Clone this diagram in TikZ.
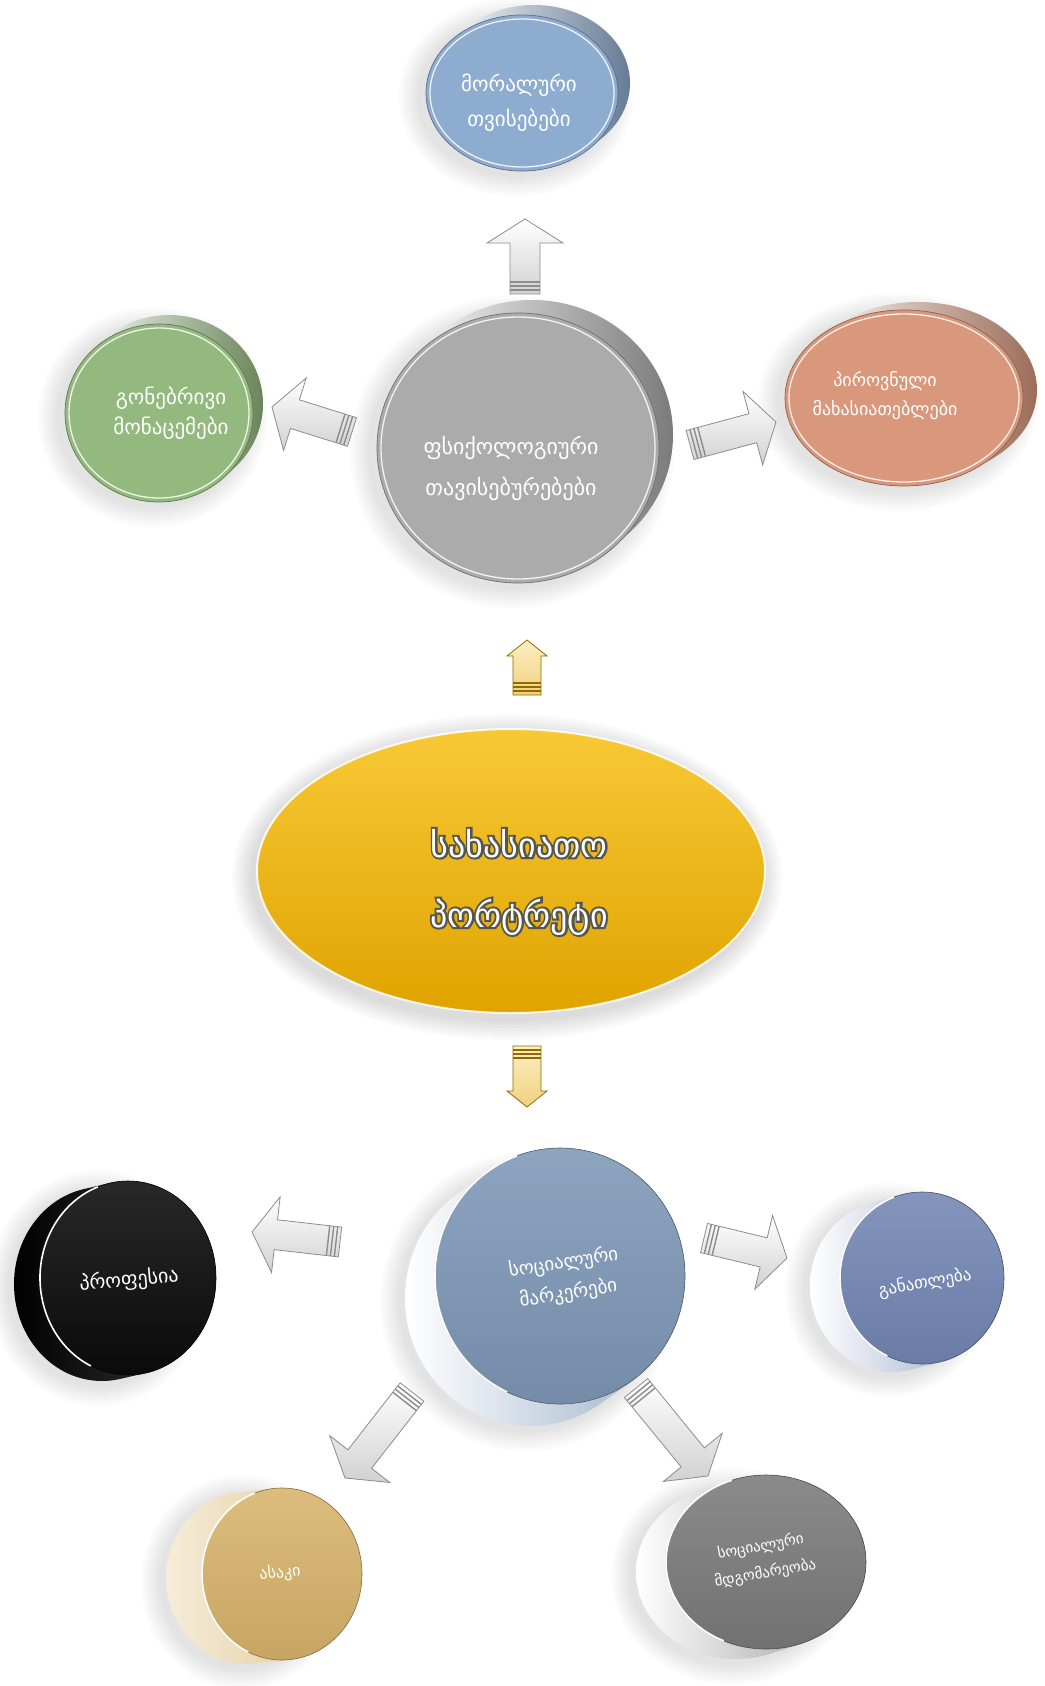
\documentclass[tikz,border=0pt]{standalone}
\usepackage{fontspec}
\newfontfamily\geo{DejaVu Sans}
\newfontfamily\geohalo[FakeBold=12]{DejaVu Sans}
\usetikzlibrary{calc}

\definecolor{moralc}{HTML}{8EABD0}
\definecolor{mindc}{HTML}{94B97E}
\definecolor{psyc}{HTML}{ABABAB}
\definecolor{persc}{HTML}{D9977B}
\definecolor{coreA}{HTML}{F7C936}
\definecolor{coreB}{HTML}{E0A300}
\definecolor{socc}{HTML}{7E98B7}
\definecolor{profc}{HTML}{0B0B0B}
\definecolor{educ}{HTML}{7386B4}
\definecolor{agec}{HTML}{D8B46B}
\definecolor{statc}{HTML}{7B7B7B}
\definecolor{haloc}{HTML}{55554A}

% flat disc: centre x, centre y, x radius, y radius, colour, rim shift x, rim shift y
\newcommand\flatdisc[7]{%
  \foreach \k in {1,...,7}
    \fill[black, opacity=0.016] ({#1-6},{#2+4}) ellipse [x radius={#3+3*\k}, y radius={#4+3*\k}];
  \shade[left color=white, right color=#5!72!black] ({#1+#6},{#2+#7}) ellipse [x radius=#3, y radius=#4];
  \fill[#5] (#1,#2) ellipse [x radius=#3, y radius=#4];
  \draw[#5!65!black, line width=.7pt] (#1,#2) ellipse [x radius=#3, y radius=#4];
  \draw[white, line width=1.3pt, opacity=.85] (#1,#2) ellipse [x radius={#3-4}, y radius={#4-4}];
}

% disc seen at an angle: centre x, centre y, x radius, y radius, tilt, depth x, depth y, face colour, side colour
\newcommand\cylinder[9]{%
  \begin{scope}[rotate around={#5:(#1,#2)}]
    \foreach \k in {1,...,7}
      \fill[black, opacity=0.016] ({#1+#6-4},{#2+#7+4}) ellipse [x radius={#3+3*\k}, y radius={#4+3*\k}];
    \shade[left color=#9, right color=#8!80!white]
      foreach \t in {0,0.1,...,1.01} { ({#1+\t*#6},{#2+\t*#7}) ellipse [x radius=#3, y radius=#4] };
    \shade[top color=#8!88!white, bottom color=#8!92!black] (#1,#2) ellipse [x radius=#3, y radius=#4];
    \draw[#8!60!black, line width=.6pt] (#1,#2) ellipse [x radius=#3, y radius=#4];
    \draw[white, line width=1.6pt]
      ({#1+#3*cos(115)},{#2+#4*sin(115)}) arc [start angle=115, end angle=250, x radius=#3, y radius=#4];
  \end{scope}
}

% block arrow from a tail coordinate to a tip coordinate
\def\ahw{38}\def\ahl{24}\def\asw{15}
\newcommand\blockarrow[3]{%
  \path let \p1=(#2), \p2=(#3),
      \n1={atan2(\y2-\y1,\x2-\x1)}, \n2={veclen(\x2-\x1,\y2-\y1)} in
      \pgfextra{\xdef\arrang{\n1}\xdef\arrlen{\n2}};
  \begin{scope}[shift={(#2)}, rotate=\arrang]
    \shadedraw[#1] (0,-\asw) -- ({\arrlen-\ahl},-\asw) -- ({\arrlen-\ahl},-\ahw) -- (\arrlen,0)
      -- ({\arrlen-\ahl},\ahw) -- ({\arrlen-\ahl},\asw) -- (0,\asw) -- cycle;
    \foreach \s in {4,8,12}
      \draw[#1, line width=1.4pt] (\s,-\asw) -- (\s,\asw);
  \end{scope}
}

\tikzset{
  whitearrow/.style={top color=white, bottom color=black!18, draw=black!45, line width=.8pt},
  goldarrow/.style={top color=coreA!30!white, bottom color=coreB!50!white, draw=coreB!65!black, line width=.8pt},
  lbl/.style={text=white, align=center, inner sep=0pt},
}

\begin{document}
\begin{tikzpicture}[x=1pt,y=-1pt]
\useasboundingbox (0,0) rectangle (1044,1686);
\fill[white] (0,0) rectangle (1044,1686);

% upper group
\flatdisc{522}{93}{96}{78}{moralc}{12}{-10}
\flatdisc{159}{413}{94}{89}{mindc}{10}{-9}
\flatdisc{518}{448}{141}{135}{psyc}{14}{-13}
\flatdisc{904}{398}{119}{88}{persc}{14}{-8}

\node[lbl, font=\geo\fontsize{21}{35}\selectfont] (moral) at (519,103) {მორალური\\თვისებები};
\node[lbl, font=\geo\fontsize{21}{30}\selectfont] (mind) at (171,413) {გონებრივი\\მონაცემები};
\node[lbl, font=\geo\fontsize{22}{41}\selectfont] (psy) at (511,468) {ფსიქოლოგიური\\თავისებურებები};
\node[lbl, font=\geo\fontsize{18}{29}\selectfont] (pers) at (885,396) {პიროვნული\\მახასიათებლები};

% central ellipse
\foreach \k in {1,...,7}
  \fill[black, opacity=0.018] (507,877) ellipse [x radius={254+3*\k}, y radius={142+3*\k}];
\shade[top color=coreA, bottom color=coreB] (511,871) ellipse [x radius=254, y radius=142];
\draw[white, line width=2pt, opacity=.85] (511,871) ellipse [x radius=254, y radius=142];
\node[lbl, text=haloc, font=\geohalo\fontsize{34}{70}\selectfont] (core-halo) at (519,882) {სახასიათო\\პორტრეტი};
\node[lbl, font=\geo\fontsize{34}{70}\selectfont] (core) at (519,882) {სახასიათო\\პორტრეტი};

% lower group
\cylinder{560}{1276}{125}{128}{0}{-30}{22}{socc}{white}
\cylinder{128}{1278}{88}{97}{0}{-26}{6}{profc}{black}
\cylinder{922}{1278}{82}{86}{0}{-30}{8}{educ}{white}
\cylinder{282}{1574}{80}{86}{0}{-36}{4}{agec}{agec!25!white}
\cylinder{766}{1562}{100}{87}{0}{-30}{10}{statc}{white}

\node[lbl, rotate=9, font=\geo\fontsize{19}{31}\selectfont] (soc) at (566,1278) {სოციალური\\მარკერები};
\node[lbl, rotate=5, font=\geo\fontsize{20}{24}\selectfont] (prof) at (129,1280) {პროფესია};
\node[lbl, rotate=10, font=\geo\fontsize{17}{24}\selectfont] (edu) at (925,1283) {განათლება};
\node[lbl, rotate=5, font=\geo\fontsize{16}{24}\selectfont] (age) at (280,1573) {ასაკი};
\node[lbl, rotate=10, font=\geo\fontsize{15}{27}\selectfont] (stat) at (763,1560) {სოციალური\\მდგომარეობა};

% arrow ends
\coordinate (a1s) at (525,294); \coordinate (a1e) at (525,219);
\coordinate (a2s) at (352,432); \coordinate (a2e) at (272,407);
\coordinate (a3s) at (690,445); \coordinate (a3e) at (776,422);
\coordinate (a4s) at (527,695); \coordinate (a4e) at (527,640);
\coordinate (a5s) at (527,1046); \coordinate (a5e) at (527,1107);
\coordinate (a6s) at (340,1242); \coordinate (a6e) at (252,1232);
\coordinate (a7s) at (704,1238); \coordinate (a7e) at (787,1258);
\coordinate (a8s) at (412,1392); \coordinate (a8e) at (345,1478);
\coordinate (a9s) at (636,1388); \coordinate (a9e) at (708,1476);

\blockarrow{whitearrow}{a1s}{a1e}
\blockarrow{whitearrow}{a2s}{a2e}
\blockarrow{whitearrow}{a3s}{a3e}
\blockarrow{whitearrow}{a6s}{a6e}
\blockarrow{whitearrow}{a7s}{a7e}
\blockarrow{whitearrow}{a8s}{a8e}
\blockarrow{whitearrow}{a9s}{a9e}
\def\ahw{20}\def\ahl{16}\def\asw{14}
\blockarrow{goldarrow}{a4s}{a4e}
\blockarrow{goldarrow}{a5s}{a5e}
\end{tikzpicture}
\end{document}
